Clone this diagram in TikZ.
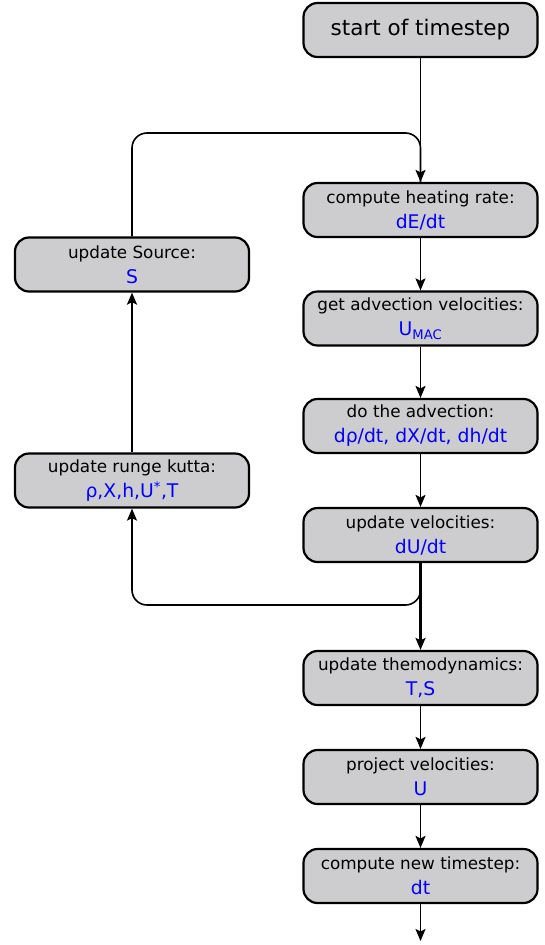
\documentclass[tikz,border=0pt]{standalone}
\usepackage{fontspec}
\setmainfont{DejaVu Sans}
\usetikzlibrary{arrows.meta}
\definecolor{boxgray}{RGB}{205,205,207}
\newcommand\bluetxt[1]{{\color{blue}\fontsize{18.8}{25}\selectfont #1}}
\begin{document}
\begin{tikzpicture}[x=1pt,y=-1pt,
  box/.style={draw=black, line width=2.2pt, fill=boxgray, rounded corners=14pt,
    minimum width=234pt, minimum height=54pt, align=center, inner sep=0pt,
    font=\fontsize{16.8}{25}\selectfont},
  tip/.style={-{Stealth[length=12pt,width=10pt,inset=2.5pt]}},
  conn/.style={line width=1.6pt, tip},
  thickconn/.style={line width=2.3pt, tip},
  loop/.style={line width=1.6pt, rounded corners=15pt},
]
\useasboundingbox (0,0) rectangle (544,945);

\node[box, font=\fontsize{21.5}{25}\selectfont] (start) at (420.5,30) {start of timestep};
\node[box] (heat) at (420.5,210) {compute heating rate:\\\bluetxt{dE/dt}};
\node[box] (advvel) at (420.5,318.5) {get advection velocities:\\\bluetxt{U\textsubscript{MAC}}};
\node[box] (doadv) at (420.5,426) {do the advection:\\\bluetxt{dρ/dt, dX/dt, dh/dt}};
\node[box] (updvel) at (420.5,535) {update velocities:\\\bluetxt{dU/dt}};
\node[box] (thermo) at (420.5,678) {update themodynamics:\\\bluetxt{T,S}};
\node[box] (proj) at (420.5,777) {project velocities:\\\bluetxt{U}};
\node[box] (newdt) at (420.5,876) {compute new timestep:\\\bluetxt{dt}};
\node[box] (src) at (132,264.5) {update Source:\\\bluetxt{S}};
\node[box] (rk) at (132,480.5) {update runge kutta:\\\bluetxt{ρ,X,h,U\textsuperscript{*},T}};
\coordinate (endpt) at (420.5,941);

\draw[conn] (start) -- (heat);
\draw[conn] (heat) -- (advvel);
\draw[conn] (advvel) -- (doadv);
\draw[conn] (doadv) -- (updvel);
\draw[thickconn] (updvel) -- (thermo);
\draw[conn] (thermo) -- (proj);
\draw[conn] (proj) -- (newdt);
\draw[conn] (newdt) -- (endpt);
\draw[thickconn] (rk) -- (src);
\draw[loop] (src.north) |- (420.5,133) -- (heat.north);
\draw[loop, tip] (updvel.south) |- (132,605) -- (rk.south);
\end{tikzpicture}
\end{document}
